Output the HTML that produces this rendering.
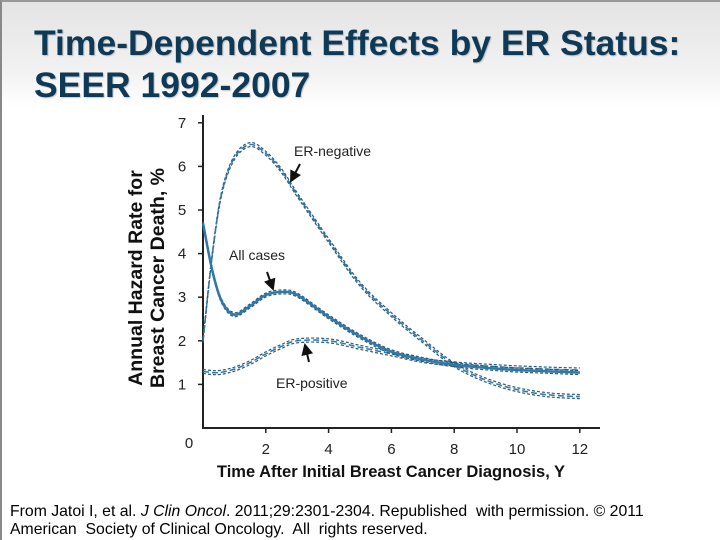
<!DOCTYPE html>
<html><head><meta charset="utf-8"><style>
html,body{margin:0;padding:0}
body{width:720px;height:540px;overflow:hidden;position:relative;font-family:"Liberation Sans",sans-serif;background:#fff}
#bg{position:absolute;left:0;top:0;width:720px;height:540px;background:linear-gradient(#e4e4e4 0px,#f2f2f2 70px,#fff 105px,#fff 100%);box-sizing:border-box;border-left:2px solid #888;border-top:2px solid #999}
#title{position:absolute;left:34px;top:22px;font-size:35.5px;font-weight:bold;color:#0e3a58;line-height:42px;margin:0;text-shadow:1px 1px 1px rgba(0,0,0,0.2)}
#foot{position:absolute;left:10px;top:503px;font-size:15.8px;color:#000;line-height:18px}
svg{position:absolute;left:0;top:0}
</style></head><body>
<div id="bg"></div>
<h1 id="title">Time-Dependent Effects by ER Status:<br>SEER 1992-2007</h1>
<svg id="chart" width="720" height="540"></svg>
<div id="foot">From Jatoi I, et al. <i>J Clin Oncol</i>. 2011;29:2301-2304. Republished&nbsp; with permission. © 2011<br>American&nbsp; Society of Clinical Oncology.&nbsp; All&nbsp; rights reserved.</div>
<script>
const years = [0,0.3,0.6,1,1.5,2,2.5,3,4,5,6,7,8,9,10,11,12];
const erNegative = [2.0,4.0,5.4,6.2,6.5,6.3,5.9,5.35,4.3,3.3,2.6,2.0,1.45,1.1,0.88,0.76,0.72];
const allCases = [4.7,3.6,2.9,2.6,2.8,3.05,3.12,3.05,2.55,2.1,1.75,1.57,1.45,1.38,1.33,1.3,1.27];
const erPositive = [1.3,1.27,1.28,1.35,1.5,1.7,1.87,2.0,2.0,1.85,1.7,1.55,1.47,1.42,1.38,1.35,1.33];
const yTicks = [1,2,3,4,5,6,7];
const xTicks = [2,4,6,8,10,12];

const NS='http://www.w3.org/2000/svg';
const svg=document.getElementById('chart');
const X0=203,XS=31.4,Y0=428,YS=43.6;
const sx=v=>X0+v*XS, sy=v=>Y0-v*YS;
function mk(t,a){const e=document.createElementNS(NS,t);for(const k in a)e.setAttribute(k,a[k]);svg.appendChild(e);return e;}
function path(xs,ys,dy){
  const p=xs.map((x,i)=>[sx(x),sy(ys[i])+dy]);
  let d='M'+p[0][0]+','+p[0][1];
  for(let i=0;i<p.length-1;i++){
    const p0=p[i-1]||p[i],p1=p[i],p2=p[i+1],p3=p[i+2]||p2;
    const c1=[p1[0]+(p2[0]-p0[0])/6,p1[1]+(p2[1]-p0[1])/6];
    const c2=[p2[0]-(p3[0]-p1[0])/6,p2[1]-(p3[1]-p1[1])/6];
    d+=' C'+c1+' '+c2+' '+p2;
  }
  return d;
}
let e=mk('line',{x1:X0,y1:115,x2:X0,y2:Y0+1,stroke:'#222','stroke-width':2});


e=mk('line',{x1:X0,y1:Y0,x2:600,y2:Y0,stroke:'#222','stroke-width':2});


yTicks.forEach(v=>{
  const t=mk('line',{x1:X0-5,y1:sy(v),x2:X0,y2:sy(v),stroke:'#222','stroke-width':1.5});
  
  
  const l=mk('text',{x:182,y:sy(v)+5,'font-size':15,fill:'#222','text-anchor':'middle'});
  l.textContent=v;
  
  
});
e=mk('text',{x:189,y:448,'font-size':15,fill:'#222','text-anchor':'middle'});e.textContent='0';


xTicks.forEach(v=>{
  const t=mk('line',{x1:sx(v),y1:Y0,x2:sx(v),y2:Y0+5,stroke:'#222','stroke-width':1.5});
  
  
  const l=mk('text',{x:sx(v),y:454,'font-size':15,fill:'#222','text-anchor':'middle'});
  l.textContent=v;
  
  
});
e=mk('text',{x:391,y:477,'font-size':16.5,'font-weight':'bold',fill:'#111','text-anchor':'middle'});
e.textContent='Time After Initial Breast Cancer Diagnosis, Y';


e=mk('text',{x:0,y:0,'font-size':19.5,'font-weight':'bold',fill:'#111','text-anchor':'middle',transform:'translate(142,278) rotate(-90)'});
e.textContent='Annual Hazard Rate for';


e=mk('text',{x:0,y:0,'font-size':19.5,'font-weight':'bold',fill:'#111','text-anchor':'middle',transform:'translate(164,278) rotate(-90)'});
e.textContent='Breast Cancer Death, %';


function series(ys,name,solid){
  const g=document.createElementNS(NS,'g');svg.appendChild(g);
  
  
  [-2,2].forEach(dy=>{
    const p=document.createElementNS(NS,'path');
    p.setAttribute('d',path(years,ys,dy));p.setAttribute('fill','none');
    p.setAttribute('stroke','#2a5a7a');p.setAttribute('stroke-width',1.2);p.setAttribute('stroke-dasharray','3 2');
    g.appendChild(p);
  });
  const p=document.createElementNS(NS,'path');
  p.setAttribute('d',path(years,ys,0));p.setAttribute('fill','none');
  p.setAttribute('stroke','#2f78a8');p.setAttribute('stroke-width',solid?2.5:1.5);
  if(!solid)p.setAttribute('stroke-dasharray','6 3');
  g.appendChild(p);
}
series(erNegative,'er-negative-line',false);
series(erPositive,'er-positive-line',false);
series(allCases,'all-cases-line',true);
function label(t,x,y,n){const l=mk('text',{x:x,y:y,'font-size':14,fill:'#222'});l.textContent=t;
  
  }
label('ER-negative',294,156,'er-negative-label');
label('All cases',229,260,'all-cases-label');
label('ER-positive',276,388,'er-positive-label');
const defs=mk('defs',{});
const m=document.createElementNS(NS,'marker');m.setAttribute('id','ah');m.setAttribute('markerWidth',6);m.setAttribute('markerHeight',6);m.setAttribute('refX',5);m.setAttribute('refY',3);m.setAttribute('orient','auto');
const mp=document.createElementNS(NS,'path');mp.setAttribute('d','M0,0 L6,3 L0,6 z');mp.setAttribute('fill','#111');m.appendChild(mp);defs.appendChild(m);
function arrow(x1,y1,x2,y2,n){const a=mk('line',{x1:x1,y1:y1,x2:x2,y2:y2,stroke:'#111','stroke-width':2,'marker-end':'url(#ah)'});
  
  }
arrow(300,164,291,181,'er-negative-arrow');
arrow(267,272,273,289,'all-cases-arrow');
arrow(309,362,305,345,'er-positive-arrow');
</script>
</body></html>
